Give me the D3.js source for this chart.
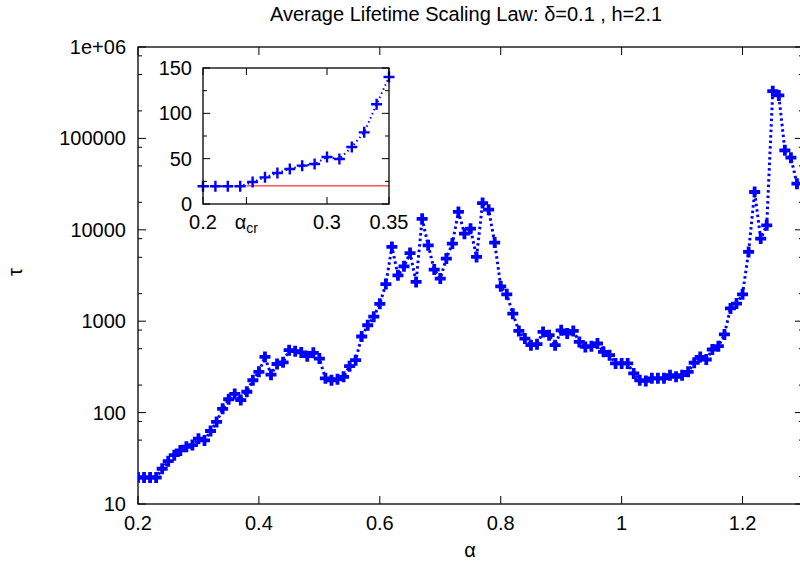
<!DOCTYPE html>
<html>
<head>
<meta charset="utf-8">
<script src="https://cdn.jsdelivr.net/npm/d3@7"></script>
<style>
  body { margin: 0; background: #fff; }
  svg { display: block; font-family: "Liberation Sans", Arial, sans-serif; }
</style>
</head>
<body>
<div id="chart"></div>
<script>
// Data
const alpha = [
  0.20, 0.21, 0.22, 0.23, 0.24, 0.25, 0.26, 0.27, 0.28, 0.29,
  0.30, 0.31, 0.32, 0.33, 0.34, 0.35, 0.36, 0.37, 0.38, 0.39,
  0.40, 0.41, 0.42, 0.43, 0.44, 0.45, 0.46, 0.47, 0.48, 0.49,
  0.50, 0.51, 0.52, 0.53, 0.54, 0.55, 0.56, 0.57, 0.58, 0.59,
  0.60, 0.61, 0.62, 0.63, 0.64, 0.65, 0.66, 0.67, 0.68, 0.69,
  0.70, 0.71, 0.72, 0.73, 0.74, 0.75, 0.76, 0.77, 0.78, 0.79,
  0.80, 0.81, 0.82, 0.83, 0.84, 0.85, 0.86, 0.87, 0.88, 0.89,
  0.90, 0.91, 0.92, 0.93, 0.94, 0.95, 0.96, 0.97, 0.98, 0.99,
  1.00, 1.01, 1.02, 1.03, 1.04, 1.05, 1.06, 1.07, 1.08, 1.09,
  1.10, 1.11, 1.12, 1.13, 1.14, 1.15, 1.16, 1.17, 1.18, 1.19,
  1.20, 1.21, 1.22, 1.23, 1.24, 1.25, 1.26, 1.27, 1.28, 1.29
];
const tau = [
  19.5, 19.5, 19.5, 19.5, 24.3, 29.4, 34.2, 38.6, 42.3, 44.1,
  51.8, 49.6, 62.9, 79, 110, 140, 160, 137, 169, 226,
  279, 407, 260, 340, 355, 482, 470, 455, 414, 451,
  390, 237, 226, 232, 246, 322, 375, 680, 903, 1120,
  1550, 2550, 6500, 3180, 3980, 5570, 2690, 13200, 6760, 3670,
  2930, 4840, 7060, 15700, 9080, 10300, 5050, 19600, 16600, 7240,
  2410, 1970, 1210, 783, 646, 547, 560, 764, 703, 547,
  795, 734, 783, 594, 523, 533, 570, 462, 425, 345,
  345, 345, 268, 226, 222, 237, 237, 237, 257, 246,
  257, 279, 351, 407, 381, 490, 533, 716, 1380, 1560,
  1970, 5720, 25900, 8010, 11200, 329000, 295000, 74000, 61500, 32000
];
const xTicks = [0.2, 0.4, 0.6, 0.8, 1.0, 1.2];
const yTicks = [10, 100, 1000, 10000, 100000, 1000000];
const yTickLabels = ["10", "100", "1000", "10000", "100000", "1e+06"];
const yMinorFactors = [2, 5, 8];

// Inset data
const insetXTicks = [0.2, 0.3, 0.35];
const insetXTickLabels = ["0.2", "0.3", "0.35"];
const insetYTicks = [0, 50, 100, 150];
const insetYMinor = [25, 75, 125];
const alphaCr = 0.235;
const tauCr = 20;

const W = 800, H = 568;
const blue = "#0000ff";
const fs = 20;

const svg = d3.select("#chart").append("svg")
  .attr("width", W).attr("height", H);

// Main plot area
const m = { left: 138, top: 47, right: 803, bottom: 504 };
const x = d3.scaleLinear().domain([0.2, 1.3]).range([m.left, m.right]);
const y = d3.scaleLog().domain([10, 1e6]).range([m.bottom, m.top]);

const data = alpha.map((a, i) => ({ a: a, t: tau[i] }));

svg.append("defs").append("clipPath").attr("id", "clipMain")
  .append("rect").attr("x", m.left).attr("y", m.top)
  .attr("width", m.right - m.left).attr("height", m.bottom - m.top);

// Ticks (gnuplot style: inward, mirrored)
const ax = svg.append("g").attr("stroke", "#000").attr("stroke-width", 1);
xTicks.forEach(v => {
  ax.append("line").attr("x1", x(v)).attr("x2", x(v)).attr("y1", m.bottom).attr("y2", m.bottom - 8);
  ax.append("line").attr("x1", x(v)).attr("x2", x(v)).attr("y1", m.top).attr("y2", m.top + 8);
});
yTicks.forEach((v, i) => {
  ax.append("line").attr("x1", m.left).attr("x2", m.left + 8).attr("y1", y(v)).attr("y2", y(v));
  ax.append("line").attr("x1", m.right).attr("x2", m.right - 8).attr("y1", y(v)).attr("y2", y(v));
  if (i < yTicks.length - 1) {
    yMinorFactors.forEach(f => {
      const yy = y(v * f);
      ax.append("line").attr("x1", m.left).attr("x2", m.left + 4).attr("y1", yy).attr("y2", yy);
      ax.append("line").attr("x1", m.right).attr("x2", m.right - 4).attr("y1", yy).attr("y2", yy);
    });
  }
});

svg.append("rect")
  .attr("x", m.left).attr("y", m.top)
  .attr("width", m.right - m.left).attr("height", m.bottom - m.top)
  .attr("fill", "none").attr("stroke", "#000").attr("stroke-width", 1.3);

// Tick labels
svg.append("g").selectAll("text").data(xTicks).join("text")
  .attr("x", d => x(d)).attr("y", m.bottom + 26)
  .attr("text-anchor", "middle").attr("font-size", fs)
  .text(d => d3.format("")(+d.toFixed(1)));

svg.append("g").selectAll("text").data(yTicks).join("text")
  .attr("x", m.left - 12).attr("y", d => y(d)).attr("dy", "0.35em")
  .attr("text-anchor", "end").attr("font-size", fs)
  .text((d, i) => yTickLabels[i]);

// Axis titles
svg.append("text").attr("x", 470).attr("y", 557)
  .attr("text-anchor", "middle").attr("font-size", fs).text("α");
svg.append("text").attr("transform", "translate(22,272) rotate(-90)")
  .attr("text-anchor", "middle").attr("font-size", fs).text("τ");
svg.append("text").attr("x", 466).attr("y", 21)
  .attr("text-anchor", "middle").attr("font-size", 20)
  .text("Average Lifetime Scaling Law: δ=0.1 , h=2.1");

// Main series
const gMain = svg.append("g").attr("clip-path", "url(#clipMain)");
gMain.append("path").datum(data)
  .attr("fill", "none").attr("stroke", blue).attr("stroke-width", 3)
  .attr("stroke-dasharray", "2.5,3")
  .attr("d", d3.line().x(d => x(d.a)).y(d => y(d.t)));

function plus(g, px, py, s, w) {
  g.append("path")
    .attr("d", `M${px - s},${py}H${px + s}M${px},${py - s}V${py + s}`)
    .attr("stroke", blue).attr("stroke-width", w).attr("fill", "none");
}
data.forEach(d => plus(gMain, x(d.a), y(d.t), 5.5, 3.8));

// Inset
const n = { left: 203, top: 68, right: 389, bottom: 204 };
const xi = d3.scaleLinear().domain([0.2, 0.35]).range([n.left, n.right]);
const yi = d3.scaleLinear().domain([0, 150]).range([n.bottom, n.top]);
const inset = svg.append("g");
inset.append("rect").attr("x", n.left).attr("y", n.top)
  .attr("width", n.right - n.left).attr("height", n.bottom - n.top)
  .attr("fill", "#fff");

const insetData = data.filter(d => d.a <= 0.3501);

inset.append("line")
  .attr("x1", xi(alphaCr)).attr("x2", xi(0.35))
  .attr("y1", yi(tauCr)).attr("y2", yi(tauCr))
  .attr("stroke", "#ff0000").attr("stroke-width", 1);

inset.append("path").datum(insetData)
  .attr("fill", "none").attr("stroke", blue).attr("stroke-width", 2)
  .attr("stroke-dasharray", "1.5,3")
  .attr("d", d3.line().x(d => xi(d.a)).y(d => yi(d.t)));
insetData.forEach(d => plus(inset, xi(d.a), yi(d.t), 5.5, 2.4));

const ia = inset.append("g").attr("stroke", "#000").attr("stroke-width", 1);
insetXTicks.concat([alphaCr]).forEach(v => {
  ia.append("line").attr("x1", xi(v)).attr("x2", xi(v)).attr("y1", n.bottom).attr("y2", n.bottom - 7);
  ia.append("line").attr("x1", xi(v)).attr("x2", xi(v)).attr("y1", n.top).attr("y2", n.top + 7);
});
insetYTicks.forEach(v => {
  ia.append("line").attr("x1", n.left).attr("x2", n.left + 7).attr("y1", yi(v)).attr("y2", yi(v));
  ia.append("line").attr("x1", n.right).attr("x2", n.right - 7).attr("y1", yi(v)).attr("y2", yi(v));
});
insetYMinor.forEach(v => {
  ia.append("line").attr("x1", n.left).attr("x2", n.left + 4).attr("y1", yi(v)).attr("y2", yi(v));
  ia.append("line").attr("x1", n.right).attr("x2", n.right - 4).attr("y1", yi(v)).attr("y2", yi(v));
});
inset.append("rect").attr("x", n.left).attr("y", n.top)
  .attr("width", n.right - n.left).attr("height", n.bottom - n.top)
  .attr("fill", "none").attr("stroke", "#000").attr("stroke-width", 1.3);

inset.append("g").selectAll("text").data(insetYTicks).join("text")
  .attr("x", n.left - 11).attr("y", d => yi(d)).attr("dy", "0.35em")
  .attr("text-anchor", "end").attr("font-size", fs).text(d => d);
inset.append("g").selectAll("text").data(insetXTicks).join("text")
  .attr("x", d => xi(d)).attr("y", n.bottom + 25)
  .attr("text-anchor", "middle").attr("font-size", fs)
  .text((d, i) => insetXTickLabels[i]);
const crLabel = inset.append("text")
  .attr("x", xi(alphaCr)).attr("y", n.bottom + 25)
  .attr("text-anchor", "middle").attr("font-size", fs);
crLabel.append("tspan").text("α");
crLabel.append("tspan").attr("font-size", 14).attr("dy", 4).text("cr");
</script>
</body>
</html>
